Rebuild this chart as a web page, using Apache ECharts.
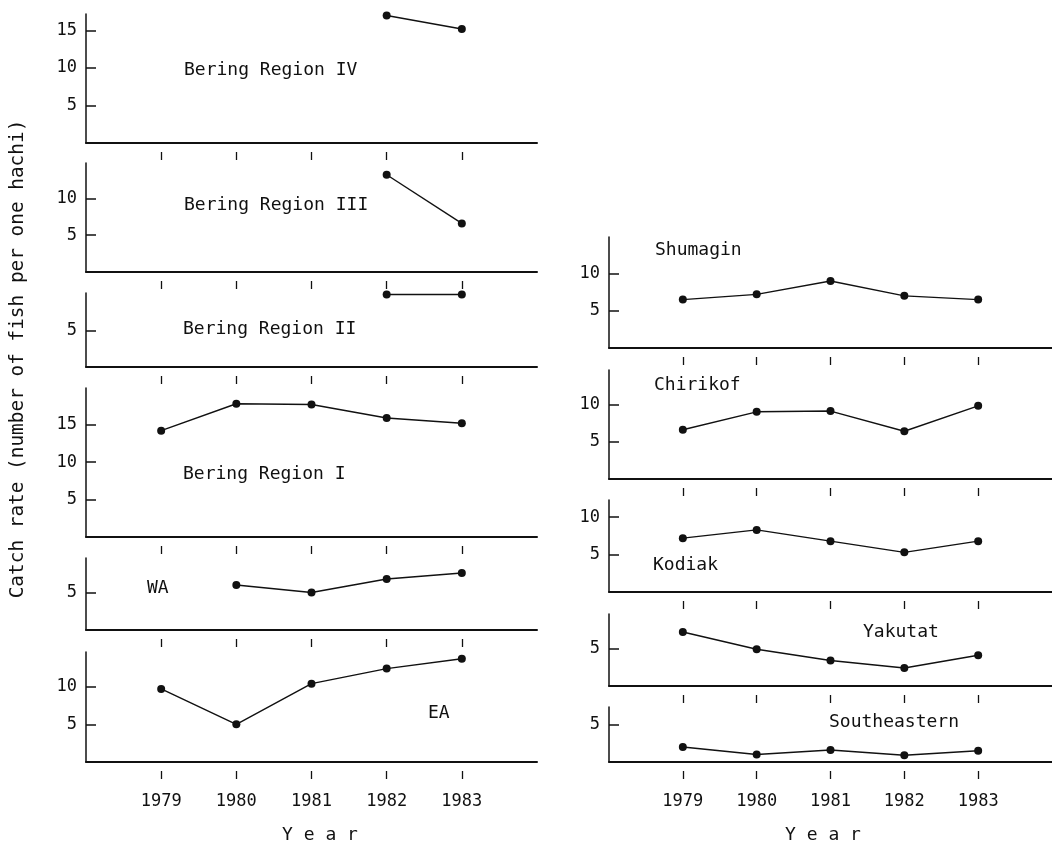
<!DOCTYPE html>
<html>
<head>
<meta charset="utf-8">
<script src="https://cdn.jsdelivr.net/npm/echarts@6/dist/echarts.min.js"></script>
<style>
  html, body { margin: 0; padding: 0; background: #fff; }
  #chart { width: 1052px; height: 847px; }
</style>
</head>
<body>
<div id="chart"></div>
<script>
// catch rate per panel, one value per year (null = no data)
const years = [1979, 1980, 1981, 1982, 1983];
const bering4 = [null, null, null, 17.0, 15.2];
const bering3 = [null, null, null, 13.2, 6.6];
const bering2 = [null, null, null, 10.0, 10.0];
const bering1 = [14.2, 17.8, 17.7, 15.9, 15.2];
const wa = [null, 6.0, 5.0, 6.8, 7.6];
const ea = [9.7, 5.0, 10.4, 12.4, 13.7];
const shumagin = [6.5, 7.2, 9.0, 7.0, 6.5];
const chirikof = [6.6, 9.0, 9.1, 6.4, 9.8];
const kodiak = [7.2, 8.3, 6.8, 5.3, 6.8];
const yakutat = [7.2, 4.9, 3.4, 2.4, 4.1];
const southeastern = [2.0, 1.0, 1.6, 0.9, 1.5];

// y tick labels
const ticks3 = [5, 10, 15];
const ticks2 = [5, 10];
const ticks1 = [5];

const FONT = '"DejaVu Sans Mono", "Liberation Mono", monospace';
const INK = '#111';

// col, top/bottom of plot box, label pos
const panels = [
  { name: 'Bering Region IV', data: bering4, ticks: ticks3, max: 17.2, col: 0, top: 14, bottom: 143, lx: 184, ly: 70 },
  { name: 'Bering Region III', data: bering3, ticks: ticks2, max: 14.8, col: 0, top: 163, bottom: 272, lx: 184, ly: 205 },
  { name: 'Bering Region II', data: bering2, ticks: ticks1, max: 10.2, col: 0, top: 293, bottom: 367, lx: 183, ly: 329 },
  { name: 'Bering Region I', data: bering1, ticks: ticks3, max: 19.9, col: 0, top: 388, bottom: 537, lx: 183, ly: 474 },
  { name: 'WA', data: wa, ticks: ticks1, max: 9.6, col: 0, top: 558, bottom: 630, lx: 147, ly: 588 },
  { name: 'EA', data: ea, ticks: ticks2, max: 14.6, col: 0, top: 652, bottom: 762, lx: 428, ly: 713, last: true },
  { name: 'Shumagin', data: shumagin, ticks: ticks2, max: 14.9, col: 1, top: 237, bottom: 348, lx: 655, ly: 250 },
  { name: 'Chirikof', data: chirikof, ticks: ticks2, max: 14.6, col: 1, top: 370, bottom: 479, lx: 654, ly: 385 },
  { name: 'Kodiak', data: kodiak, ticks: ticks2, max: 12.3, col: 1, top: 500, bottom: 592, lx: 653, ly: 565 },
  { name: 'Yakutat', data: yakutat, ticks: ticks1, max: 9.6, col: 1, top: 614, bottom: 686, lx: 863, ly: 632 },
  { name: 'Southeastern', data: southeastern, ticks: ticks1, max: 7.3, col: 1, top: 707, bottom: 762, lx: 829, ly: 722, last: true },
];

const grid = [];
const xAxis = [];
const yAxis = [];
const series = [];
const graphic = [];

panels.forEach((p, i) => {
  grid.push({
    left: p.col === 0 ? 86 : 609,
    right: p.col === 0 ? 515 : 0,
    top: p.top,
    height: p.bottom - p.top,
  });
  // axis line
  xAxis.push({
    gridIndex: i, type: 'value', min: 1978, max: 1984,
    axisLine: { onZero: false, lineStyle: { color: INK, width: 2 } },
    axisTick: { show: false },
    axisLabel: { show: false },
    splitLine: { show: false },
  });
  // detached year ticks (and year labels on the last panel)
  xAxis.push({
    gridIndex: i, type: 'value', min: 1978, max: 1984,
    position: 'bottom', offset: 9,
    axisLine: { show: false, onZero: false },
    axisTick: { show: true, customValues: years, length: 8, lineStyle: { color: INK, width: 1.3 } },
    axisLabel: {
      show: !!p.last, customValues: years, margin: 22,
      formatter: v => String(v),
      fontFamily: FONT, fontSize: 17, color: INK,
    },
    splitLine: { show: false },
  });
  yAxis.push({
    gridIndex: i, type: 'value', min: 0, max: p.max,
    axisLine: { show: true, onZero: false, lineStyle: { color: INK, width: 1.5 } },
    axisTick: { show: true, inside: true, length: 10, customValues: p.ticks, lineStyle: { color: INK, width: 1.5 } },
    axisLabel: { customValues: p.ticks, margin: 9, fontFamily: FONT, fontSize: 17, color: INK },
    splitLine: { show: false },
  });
  series.push({
    type: 'line',
    xAxisIndex: 2 * i,
    yAxisIndex: i,
    data: years.map((y, k) => [y, p.data[k]]).filter(d => d[1] !== null),
    symbol: 'circle',
    symbolSize: 8,
    itemStyle: { color: INK },
    lineStyle: { color: INK, width: 1.4 },
    silent: true,
  });
  graphic.push({
    type: 'text', x: p.lx, y: p.ly,
    style: { text: p.name, font: '18px ' + FONT, fill: INK, verticalAlign: 'middle' },
  });
});

graphic.push(
  {
    type: 'text', x: 320, y: 835,
    style: { text: 'Y e a r', font: '18px ' + FONT, fill: INK, align: 'center', verticalAlign: 'middle' },
  },
  {
    type: 'text', x: 823, y: 835,
    style: { text: 'Y e a r', font: '18px ' + FONT, fill: INK, align: 'center', verticalAlign: 'middle' },
  },
  {
    type: 'text', x: 18, y: 359, rotation: Math.PI / 2,
    style: {
      text: 'Catch rate (number of fish per one hachi)',
      font: '19.4px ' + FONT, fill: INK, align: 'center', verticalAlign: 'middle',
    },
  }
);

const myChart = echarts.init(document.getElementById('chart'), null, { renderer: 'canvas' });
myChart.setOption({
  backgroundColor: '#fff',
  animation: false,
  grid,
  xAxis,
  yAxis,
  series,
  graphic,
});
</script>
</body>
</html>
